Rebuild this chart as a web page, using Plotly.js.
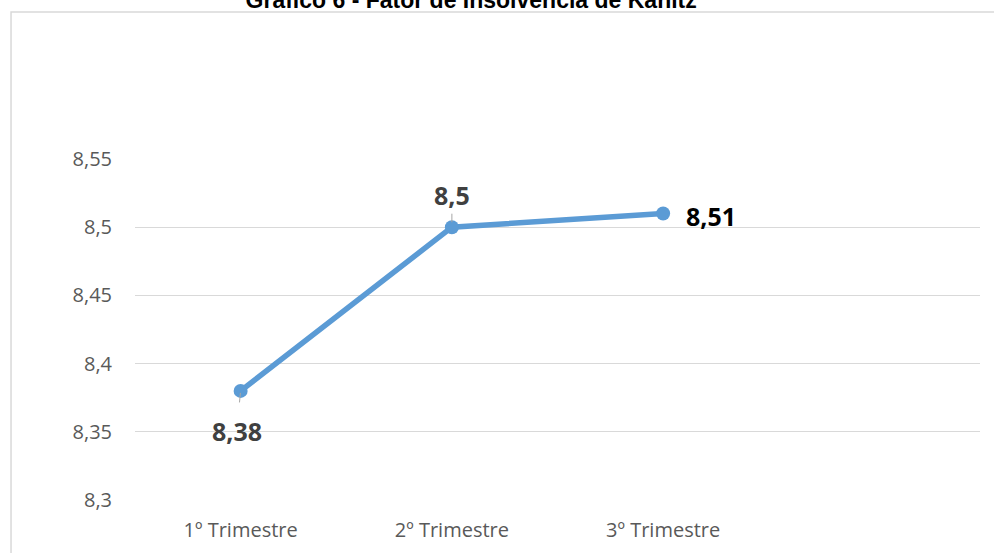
<!DOCTYPE html>
<html><head><meta charset="utf-8">
<script src="https://cdn.plot.ly/plotly-3.0.1.min.js"></script>
<style>html,body{margin:0;padding:0;background:#fff}#c{width:994px;height:553px}</style>
</head><body><div id="c"></div>
<script>
const categories = ['1º Trimestre', '2º Trimestre', '3º Trimestre'];
const values = [8.38, 8.5, 8.51];
const valueLabels = ['8,38', '8,5', '8,51'];
const yTickVals = [8.3, 8.35, 8.4, 8.45, 8.5, 8.55];
const yTickText = ['8,3', '8,35', '8,4', '8,45', '8,5', '8,55'];
const titleText = 'Gráfico 6 - Fator de Insolvência de Kanitz';

const tickFont = {family: 'Open Sans, Noto Sans, sans-serif', size: 20, color: '#595959'};
const lblFont = {family: 'Open Sans, Noto Sans, sans-serif', size: 25, color: '#404040', weight: 'bold'};

const trace = {
  x: categories, y: values, type: 'scatter', mode: 'lines+markers',
  line: {color: '#5B9BD5', width: 5.5},
  marker: {color: '#5B9BD5', size: 14},
  hoverinfo: 'skip'
};

const annotations = [
  {x: categories[0], y: values[0], text: valueLabels[0], showarrow: true, arrowhead: 0, arrowwidth: 1,
   arrowcolor: '#a6a6a6', ax: -4, ay: 40, standoff: 2, startstandoff: 10, font: lblFont},
  {x: categories[1], y: values[1], text: valueLabels[1], showarrow: true, arrowhead: 0, arrowwidth: 1,
   arrowcolor: '#a6a6a6', ax: 0, ay: -32, standoff: 5, startstandoff: 0, font: lblFont},
  {x: categories[2], y: values[2], text: valueLabels[2], showarrow: false, xanchor: 'left',
   xshift: 21, yshift: -2, font: Object.assign({}, lblFont, {color: '#000000'})}
];

const layout = {
  width: 994, height: 553,
  margin: {l: 135, r: 14, t: 159, b: 53, pad: 0},
  paper_bgcolor: '#ffffff', plot_bgcolor: '#ffffff',
  separators: ', ',
  showlegend: false,
  title: {text: titleText, x: 0.474, xanchor: 'center', y: 0.986, yanchor: 'bottom',
          pad: {t: 0, b: 0, l: 0, r: 0},
          font: {family: 'Liberation Sans, Arial, sans-serif', size: 23, color: '#000000', weight: 'bold'}},
  xaxis: {type: 'category', range: [-0.5, 3.5], showgrid: false, zeroline: false, showline: false,
          ticks: '', tickfont: tickFont, ticklabelstandoff: 16, fixedrange: true},
  yaxis: {range: [8.3, 8.55], tickvals: yTickVals, ticktext: yTickText, showgrid: true,
          gridcolor: '#d9d9d9', gridwidth: 1, zeroline: false, showline: false, ticks: '',
          tickfont: tickFont, ticklabelstandoff: 22, fixedrange: true},
  annotations: annotations,
  shapes: [
    {type: 'rect', xref: 'paper', yref: 'paper', x0: -0.1467, x1: 1.02, y0: -0.2, y1: 1.431,
     line: {color: '#d9d9d9', width: 1.5}, fillcolor: 'rgba(0,0,0,0)', layer: 'below'}
  ]
};

Plotly.newPlot('c', [trace], layout, {displayModeBar: false, staticPlot: true});
</script></body></html>
